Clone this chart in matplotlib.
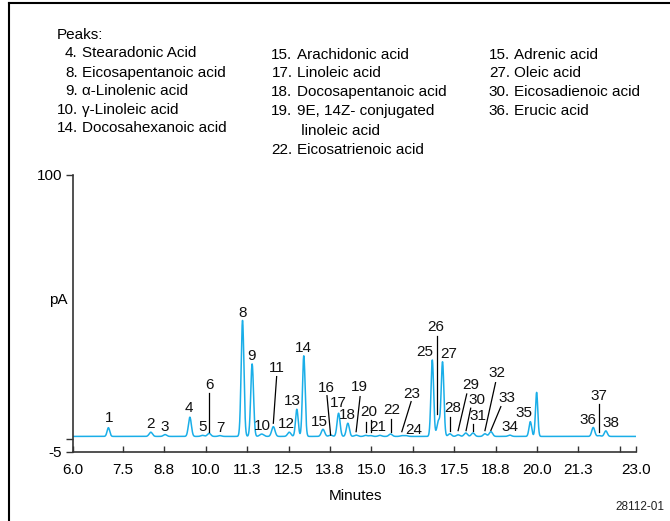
import numpy as np
import matplotlib
matplotlib.use("Agg")
import matplotlib.pyplot as plt
from matplotlib.lines import Line2D

plt.rcParams['font.family'] = ['Liberation Sans', 'DejaVu Sans']

# peak table (minutes, pA above baseline)
peak_times = [7.06, 8.34, 8.77, 9.52, 9.90, 10.10, 10.43, 11.11, 11.40, 11.69,
              12.04, 12.52, 12.75, 12.96, 13.54, 13.77, 14.01, 14.29, 14.54, 14.83,
              14.98, 15.26, 15.58, 15.92, 16.05, 16.84, 17.03, 17.15, 17.37, 17.62,
              17.85, 18.07, 18.43, 18.61, 19.18, 19.80, 19.99, 21.70, 21.88, 22.08]
peak_heights = [3.3, 1.6, 0.7, 7.3, 0.4, 1.2, 0.3, 44.0, 27.5, 0.9,
                3.7, 1.6, 10.3, 30.6, 2.7, 0.5, 8.8, 5.0, 0.5, 0.4,
                0.3, 0.4, 0.9, 0.3, 0.3, 29.0, 6.0, 28.0, 1.0, 0.6,
                1.3, 1.3, 1.0, 1.8, 0.5, 5.6, 16.7, 3.4, 0.3, 2.1]
peak_widths = [0.04, 0.05, 0.05, 0.045, 0.05, 0.05, 0.05, 0.042, 0.042, 0.06,
               0.05, 0.05, 0.04, 0.04, 0.05, 0.05, 0.045, 0.045, 0.05, 0.05,
               0.05, 0.05, 0.05, 0.05, 0.05, 0.04, 0.05, 0.04, 0.05, 0.05,
               0.05, 0.05, 0.05, 0.05, 0.05, 0.04, 0.035, 0.045, 0.05, 0.045]
baseline = 0.8

peak_labels = [str(i) for i in range(1, 39)]
# label centres (minutes, pA)
label_pos = [(7.09, 7.7), (8.34, 5.5), (8.77, 4.3), (9.50, 11.5), (9.91, 4.3),
             (10.10, 20.3), (10.45, 3.9), (11.12, 47.8), (11.39, 31.3), (11.71, 4.75),
             (12.14, 26.65), (12.44, 5.5), (12.61, 14.2), (12.95, 34.2), (13.43, 6.2),
             (13.65, 19.3), (14.00, 13.4), (14.27, 8.9), (14.64, 19.4), (14.91, 10.2),
             (15.18, 4.3), (15.61, 10.8), (16.22, 16.8), (16.27, 3.2), (16.62, 32.7),
             (16.95, 42.2), (17.32, 32.1), (17.47, 11.5), (18.01, 20.3), (18.18, 14.6),
             (18.23, 8.5), (18.78, 24.75), (19.09, 15.3), (19.19, 4.5), (19.61, 9.6),
             (21.53, 7.0), (21.88, 16.1), (22.23, 5.8)]
# leader lines: label -> ((t0, v0), (t1, v1))
leaders = {
    '6': ((10.10, 17.4), (10.10, 2.6)),
    '11': ((12.14, 23.5), (12.04, 5.8)),
    '16': ((13.66, 16.25), (13.77, 1.3)),
    '19': ((14.66, 15.9), (14.54, 2.6)),
    '20': ((14.83, 6.4), (14.83, 2.6)),
    '21': ((14.98, 7.0), (14.98, 2.6)),
    '22': ((15.58, 7.3), (15.58, 2.6)),
    '23': ((16.20, 14.0), (15.92, 2.6)),
    '26': ((16.99, 38.9), (16.99, 9.3)),
    '28': ((17.37, 8.3), (17.37, 3.0)),
    '29': ((17.88, 16.9), (17.62, 3.0)),
    '30': ((18.00, 11.5), (17.86, 3.0)),
    '31': ((18.06, 5.5), (18.06, 3.0)),
    '32': ((18.75, 21.2), (18.43, 3.0)),
    '33': ((18.91, 12.1), (18.61, 3.1)),
    '37': ((21.88, 13.0), (21.88, 2.6)),
}

xticks = [6.0, 7.5, 8.75, 10.0, 11.25, 12.5, 13.75, 15.0, 16.25, 17.5,
          18.75, 20.0, 21.25, 22.5, 23.0]
xtick_labels = ['6.0', '7.5', '8.8', '10.0', '11.3', '12.5', '13.8', '15.0', '16.3',
                '17.5', '18.8', '20.0', '21.3', '', '23.0']

legend_cols = [
    (77.5, [(53.3, '4.', 'Stearadonic Acid'), (72.7, '8.', 'Eicosapentanoic acid'),
            (91.0, '9.', '\u03b1-Linolenic acid'), (110.0, '10.', '\u03b3-Linoleic acid'),
            (128.3, '14.', 'Docosahexanoic acid')]),
    (292.5, [(55.0, '15.', 'Arachidonic acid'), (73.3, '17.', 'Linoleic acid'),
             (92.3, '18.', 'Docosapentanoic acid'), (111.0, '19.', '9E, 14Z- conjugated'),
             (130.7, '', ' linoleic acid'), (150.0, '22.', 'Eicosatrienoic acid')]),
    (510.0, [(55.0, '15.', 'Adrenic acid'), (73.3, '27.', 'Oleic acid'),
             (92.3, '30.', 'Eicosadienoic acid'), (111.0, '36.', 'Erucic acid')]),
]

FS = 11
W, H = 670, 521
fig = plt.figure(figsize=(W / 100, H / 100), dpi=100)
ax = fig.add_axes([73.3 / W, 1 - 451.7 / H, (636.3 - 73.3) / W, (451.7 - 175) / H])

t = np.linspace(6.0, 23.0, 4000)
signal = np.full_like(t, baseline)
for t0, h, w in zip(peak_times, peak_heights, peak_widths):
    signal += h * np.exp(-0.5 * ((t - t0) / w) ** 2)
ax.plot(t, signal, color='#1aaee8', lw=1.1)

for lab, (lx, ly) in zip(peak_labels, label_pos):
    ax.text(lx, ly, lab, ha='center', va='center', fontsize=FS, color='#111111')
    if lab in leaders:
        (x0, y0), (x1, y1) = leaders[lab]
        ax.plot([x0, x1], [y0, y1], color='black', lw=0.9)

ax.set_xlim(6.0, 23.0)
ax.set_ylim(-5, 100)
ax.set_xticks(xticks)
ax.set_xticklabels(xtick_labels)
ax.set_yticks([-5, 0, 100])
ax.set_yticklabels(['-5', '', '100'])
ax.tick_params(axis='x', direction='in', length=4, width=1, pad=8, labelsize=FS, color='#333333')
ax.tick_params(axis='y', direction='out', length=5, width=1, pad=3, labelsize=FS, color='#333333')
for side in ['top', 'right']:
    ax.spines[side].set_visible(False)
for side in ['left', 'bottom']:
    ax.spines[side].set_color('#333333')
    ax.spines[side].set_linewidth(1.2)

fig.text(58 / W, 1 - 300 / H, 'pA', ha='center', va='center', fontsize=FS)
fig.text(355 / W, 1 - 496 / H, 'Minutes', ha='center', va='center', fontsize=FS)
fig.text(640 / W, 1 - 507 / H, '28112-01', ha='center', va='center', fontsize=8.5, color='#222222')

fig.text(56.7 / W, 1 - 35 / H, 'Peaks:', ha='left', va='center', fontsize=FS)
for xnum, rows in legend_cols:
    for y, num, name in rows:
        if num:
            fig.text(xnum / W, 1 - y / H, num, ha='right', va='center', fontsize=FS)
        fig.text((xnum + 4.5) / W, 1 - y / H, name, ha='left', va='center', fontsize=FS)

# frame around the figure (top and left edges show in the crop)
fig.add_artist(Line2D([9 / W, 1.0], [1 - 3 / H, 1 - 3 / H], color='black', lw=1.5))
fig.add_artist(Line2D([9 / W, 9 / W], [0.0, 1 - 3 / H], color='black', lw=1.5))

fig.savefig('out.png', dpi=100)
